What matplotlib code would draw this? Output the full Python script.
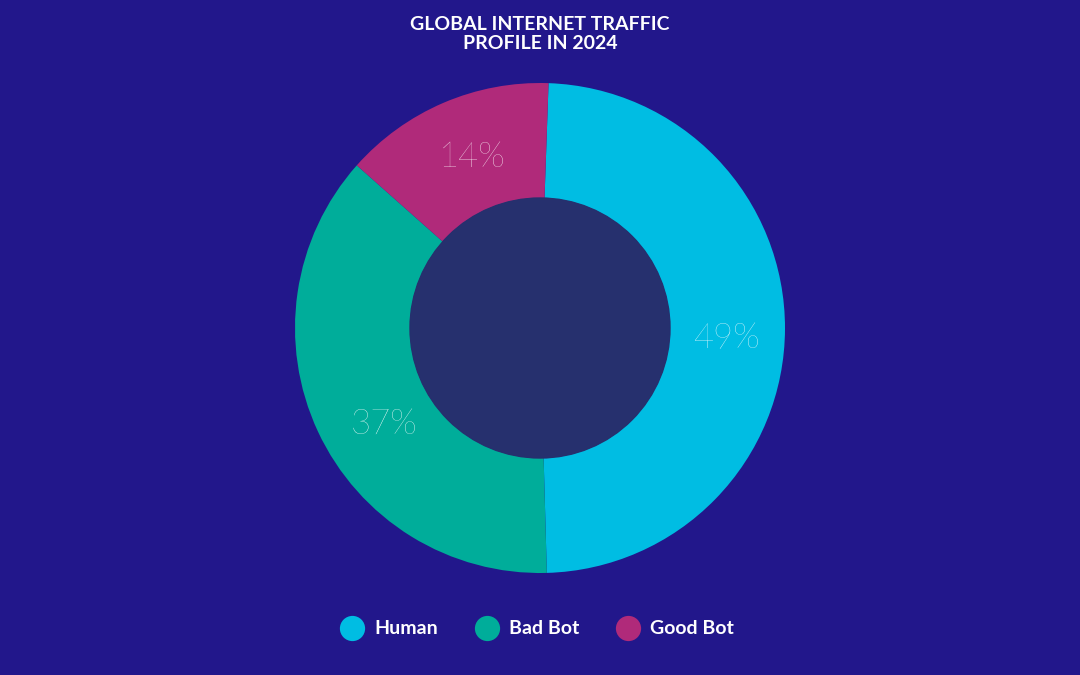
import matplotlib.pyplot as plt

labels = ["Human", "Bad Bot", "Good Bot"]
shares = [49, 37, 14]
colors = ["#00bde3", "#00ad9a", "#b02a7a"]
pct_pos = [(726, 338), (384, 424), (472, 157)]  # label positions, pixels from top-left

W, H = 1080, 675
fig = plt.figure(figsize=(W / 100, H / 100), dpi=100)
fig.patch.set_facecolor("#22178b")
ax = fig.add_axes([0, 0, 1, 1])
ax.set_xlim(0, W)
ax.set_ylim(0, H)
ax.axis("off")

cx, cy = 540, H - 328
ax.pie(shares, colors=colors, startangle=88, counterclock=False,
       center=(cx, cy), radius=245, frame=True,
       wedgeprops=dict(width=245 - 130, linewidth=0))
ax.add_patch(plt.Circle((cx, cy), 130, color="#26306e", zorder=3))
ax.set_xlim(0, W)
ax.set_ylim(0, H)
ax.axis("off")

for s, (x, y) in zip(shares, pct_pos):
    ax.text(x, H - y, f"{s}%", color="white", fontsize=25, family="Lato",
            fontweight="light", ha="center", va="center", zorder=4)

ax.text(W / 2, H - 34, "GLOBAL INTERNET TRAFFIC\nPROFILE IN 2024", color="white",
        fontsize=14, fontweight="bold", family="Lato", ha="center", va="center",
        linespacing=1.2)

leg_x = [352, 487, 628]
for lab, c, x in zip(labels, colors, leg_x):
    ax.scatter([x], [H - 628], s=330, color=c, zorder=4, linewidths=0)
    ax.text(x + 22, H - 628, lab, color="white", fontsize=14, fontweight="bold",
            family="Lato", ha="left", va="center")

fig.savefig("out.png", dpi=100, facecolor=fig.get_facecolor())
